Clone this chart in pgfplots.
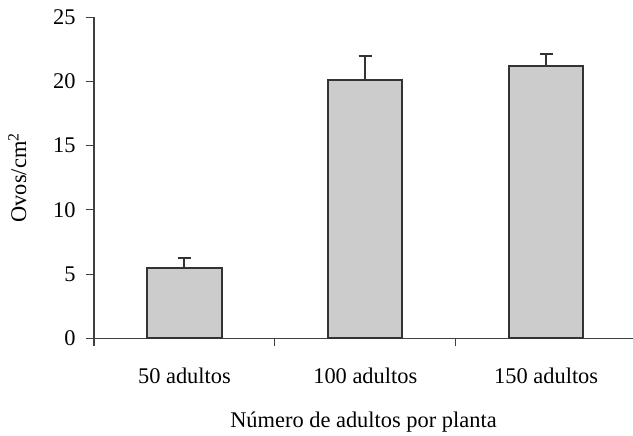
\documentclass[border=0pt]{standalone}
\usepackage{fontspec}
\setmainfont{Liberation Serif}
\usepackage{pgfplots}
\pgfplotsset{compat=1.18}
\begin{document}
\begin{tikzpicture}
\begin{axis}[
  name=ax, scale only axis, width=539bp, height=321bp,
  xmin=-0.5, xmax=2.48, ymin=0, ymax=25,
  axis x line=bottom, axis y line=left,
  axis line style={-, draw=black!75, line width=1.1bp},
  ytick={0,5,10,15,20,25},
  xtick={-0.5,0.5,1.5}, xticklabels={},
  extra x ticks={0,1,2},
  extra x tick labels={50 adultos,100 adultos,150 adultos},
  extra x tick style={major tick length=0pt, tick label style={yshift=-26bp}},
  tick align=outside, major tick length=8bp,
  tick style={draw=black!75, line width=1.1bp},
  /pgf/number format/assume math mode=true,
  tick label style={font=\fontsize{22.5}{25}\selectfont},
  label style={font=\fontsize{22.5}{25}\selectfont},
  yticklabel style={xshift=-7bp},
  xlabel={Número de adultos por planta},
  ylabel={Ovos/cm\textsuperscript{2}},
  xlabel style={yshift=-13bp},
  ylabel style={yshift=20bp},
]
\addplot[ybar, bar width=0.41, fill=black!20, draw=black!80, line width=2bp,
  error bars/.cd, y dir=plus, y explicit,
  error bar style={line width=2bp, draw=black!80},
  error mark options={rotate=90, mark size=6.6bp, line width=2bp, draw=black!80}]
  coordinates {(0,5.47) +- (0,0.78) (1,20.14) +- (0,1.87) (2,21.23) +- (0,0.94)};
\end{axis}
\pgfresetboundingbox
\path ([xshift=-94bp,yshift=-97.7bp]ax.south west) rectangle ([yshift=17.3bp]ax.north east);
\end{tikzpicture}
\end{document}
